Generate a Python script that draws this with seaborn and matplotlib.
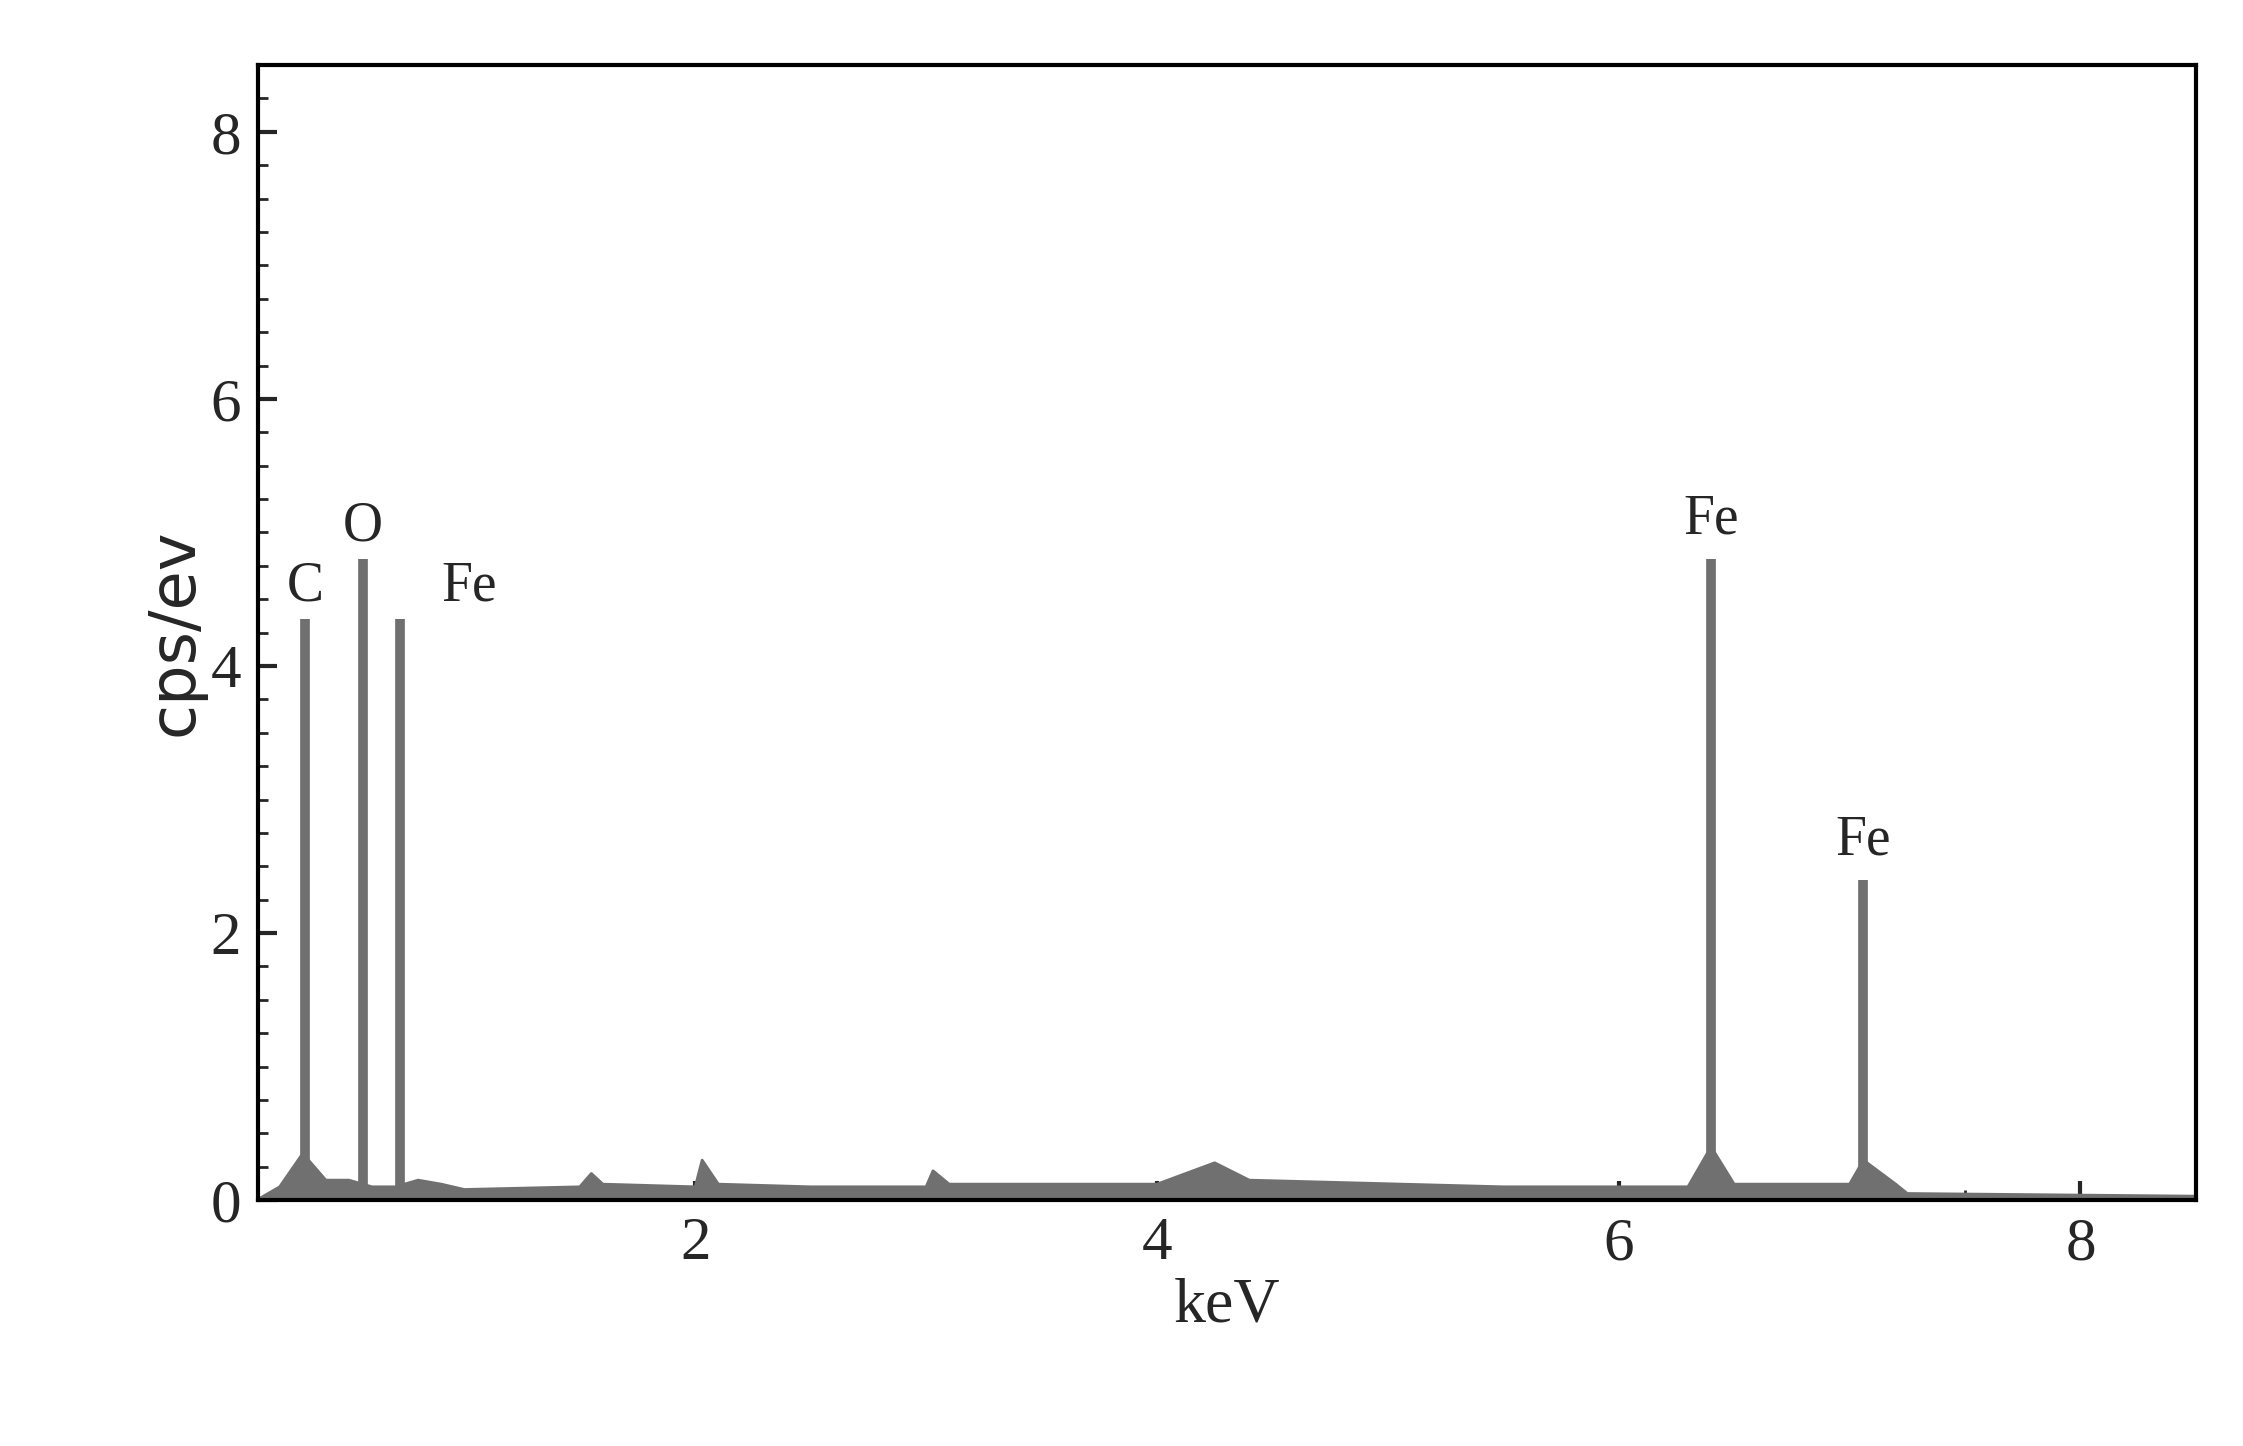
import numpy as np
import pandas as pd
import seaborn as sns
import matplotlib
matplotlib.use("Agg")
import matplotlib.pyplot as plt
from matplotlib.ticker import MultipleLocator

sns.set_style("white")
plt.rcParams['font.family'] = ['Liberation Serif', 'DejaVu Serif']

bg_kev = [0.1,0.2,0.3,0.35,0.4,0.5,0.6,0.7,0.8,0.9,1.0,1.5,1.55,1.6,2.0,2.03,2.1,2.5,3.0,3.03,3.1,4.0,4.25,4.4,5.5,6.3,6.4,6.5,7.0,7.06,7.2,7.25,8.5]
bg_cps = [0.0,0.1,0.35,0.25,0.15,0.15,0.1,0.1,0.15,0.12,0.08,0.1,0.2,0.12,0.1,0.3,0.12,0.1,0.1,0.22,0.12,0.12,0.28,0.15,0.1,0.1,0.4,0.12,0.12,0.3,0.12,0.05,0.03]
peak_kev = [0.31, 0.56, 0.72, 6.40, 7.06]
peak_cps = [4.35, 4.8, 4.35, 4.8, 2.4]
peak_labels = ["C", "O", "Fe", "Fe", "Fe"]

df = pd.DataFrame({"keV": bg_kev, "cps": bg_cps})
fig = plt.figure(figsize=(22.43, 14.46), dpi=100)
ax = fig.add_axes([0.115, 0.17, 0.864, 0.785])
col = "#707070"
sns.lineplot(data=df, x="keV", y="cps", ax=ax, color=col, lw=2)
ax.fill_between(bg_kev, 0, bg_cps, color=col)
ax.vlines(peak_kev, 0, peak_cps, color=col, lw=7)
offsets = [(0.0, 0.05), (0.0, 0.05), (0.3, 0.05), (0.0, 0.1), (0.0, 0.1)]
for x, y, t, (dx, dy) in zip(peak_kev, peak_cps, peak_labels, offsets):
    ax.text(x + dx, y + dy, t, ha="center", va="bottom", fontsize=40)

ax.set_xlim(0.106, 8.5)
ax.set_ylim(0, 8.5)
ax.xaxis.set_major_locator(MultipleLocator(2))
ax.xaxis.set_minor_locator(MultipleLocator(0.5))
ax.yaxis.set_major_locator(MultipleLocator(2))
ax.yaxis.set_minor_locator(MultipleLocator(0.25))
ax.tick_params(which="major", direction="in", length=14, width=3, labelsize=44, pad=12)
ax.tick_params(which="minor", direction="in", length=7, width=2)
ax.tick_params(bottom=True, left=True, which="both")
for s in ax.spines.values():
    s.set_linewidth(3)
    s.set_color("black")
ax.set_xlabel("keV", fontsize=46, labelpad=4)
ax.set_ylabel("cps/ev", fontsize=46, family=["DejaVu Sans"])
fig.savefig("out.png", dpi=100)
